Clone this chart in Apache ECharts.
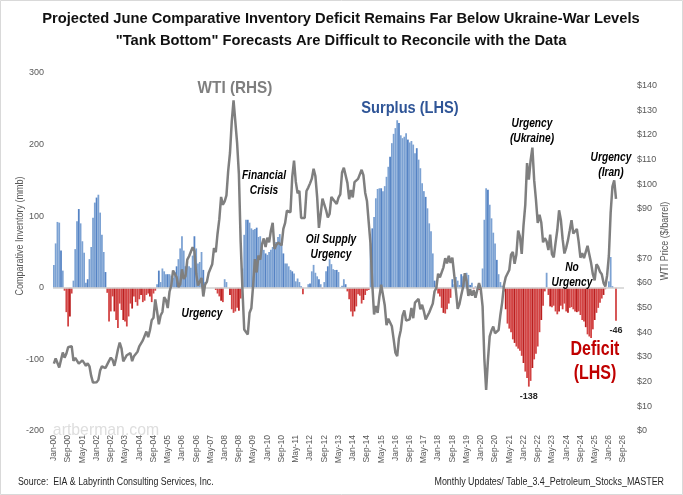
<!DOCTYPE html>
<html>
<head>
<meta charset="utf-8">
<script src="https://cdn.jsdelivr.net/npm/echarts@6/dist/echarts.min.js"></script>
<style>
  html, body { margin: 0; padding: 0; background: #fff; }
  #chart { width: 683px; height: 495px; }
</style>
</head>
<body>
<div id="chart"></div>
<script>
// month labels Jan-00 .. Sep-26
var monthNames = ['Jan','Feb','Mar','Apr','May','Jun','Jul','Aug','Sep','Oct','Nov','Dec'];
var firstYear = 2000, lastYear = 2026, lastMonth = 9;
var categories = [];
for (var y = firstYear; y <= lastYear; y++) {
  for (var m = 0; m < 12; m++) {
    if (y == lastYear && m >= lastMonth) break;
    categories.push(monthNames[m] + '-' + String(y).slice(2));
  }
}

// comparative inventory (mmb), one row per year
var inventory = [
  32, 62, 92, 91, 52, 24, -4, -34, -54, -40, -8, 10,
  54, 93, 110, 90, 65, 49, 7, 12, 40, 57, 98, 119,
  126, 130, 105, 74, 50, 22, -7, -47, -33, -12, -33, -45,
  -56, -22, -31, -45, -47, -54, -40, -22, -29, -12, -20, -25,
  -16, -10, -20, -18, -10, -8, -12, -20, -8, -4, 5, 24,
  8, 27, 23, 19, 19, 19, 17, 14, 22, 30, 40, 55,
  72, 52, 30, 37, 30, 28, 45, 72, 55, 34, 36, 50,
  25, 8, 0, 0, 0, 0, 0, -3, -8, -12, -18, -20,
  12, 8, 0, -10, -30, -35, -33, -28, -32, -15, 27, 74,
  95, 95, 91, 83, 81, 82, 84, 71, 72, 57, 53, 48,
  46, 50, 53, 57, 64, 64, 71, 75, 62, 48, 34, 34,
  30, 25, 23, 20, 9, 13, 8, 2, -9, 0, 0, 5,
  6, 23, 32, 21, 16, 12, 5, -1, 8, 23, 30, 40,
  33, 26, 25, 25, 22, 1, 3, 12, 5, -5, -16, -33,
  -40, -33, -26, -9, -11, -22, -17, -10, -4, -3, 62, 83,
  99, 125, 138, 139, 139, 135, 142, 155, 169, 183, 202, 215,
  223, 234, 230, 213, 209, 211, 216, 207, 203, 205, 200, 188,
  195, 179, 167, 146, 135, 127, 111, 90, 79, 48, 10, 2,
  -8, -12, -28, -35, -36, -30, -22, -14, 12, 5, 15, 10,
  4, 19, 16, 13, 21, 18, 4, 7, -2, 2, 0, -3,
  -9, 27, 95, 139, 137, 116, 97, 77, 62, 39, 19, 8,
  3, -5, -30, -50, -57, -62, -72, -77, -82, -85, -88, -95,
  -105, -117, -126, -138, -130, -112, -100, -92, -82, -62, -45, -25,
  -5, 21, -10, -26, -27, -25, -33, -37, -33, -25, -30, -22,
  -33, -35, -28, -27, -30, -33, -34, -33, -38, -45, -47, -55,
  -65, -68, -70, -58, -45, -35, -28, -21, -15, -10, -2, 0,
  9, 43, 2, 0, -46
];

// WTI price ($/barrel), monthly
var wti = [
  27.3, 29.4, 29.8, 25.7, 28.8, 31.8, 29.7, 31.3, 33.9, 33.1, 34.4, 28.4,
  29.6, 29.6, 27.3, 27.5, 28.6, 27.6, 26.4, 27.4, 26.2, 22.2, 19.6, 19.4,
  19.7, 20.7, 24.5, 26.2, 27.0, 25.5, 27.0, 28.4, 29.7, 28.8, 26.4, 29.5,
  33.0, 35.8, 33.5, 28.2, 28.1, 30.7, 30.8, 31.6, 28.3, 30.3, 31.1, 32.1,
  34.3, 34.7, 36.7, 36.8, 40.3, 38.0, 40.8, 44.9, 45.9, 53.3, 48.5, 43.2,
  46.8, 48.2, 54.2, 53.0, 49.8, 56.4, 59.0, 65.0, 65.6, 62.3, 58.3, 59.4,
  65.5, 61.6, 62.7, 69.4, 70.8, 71.0, 74.4, 73.0, 63.8, 58.9, 59.1, 62.0,
  54.5, 59.3, 60.4, 64.0, 63.5, 67.5, 74.1, 72.4, 79.9, 85.8, 94.8, 91.7,
  93.0, 95.4, 105.5, 112.6, 125.4, 133.9, 133.4, 116.7, 104.1, 76.6, 57.3, 41.1,
  41.7, 39.1, 47.9, 49.7, 59.0, 69.6, 64.2, 71.1, 69.4, 75.7, 78.0, 74.5,
  78.3, 76.4, 81.2, 84.3, 73.7, 75.3, 76.3, 76.6, 75.2, 81.9, 84.3, 89.2,
  89.2, 88.6, 102.9, 109.5, 100.9, 96.3, 97.3, 86.3, 85.5, 86.3, 97.2, 98.6,
  100.3, 102.2, 106.2, 103.3, 94.7, 82.3, 87.9, 94.1, 94.5, 89.5, 86.5, 87.9,
  94.8, 95.3, 92.9, 92.0, 94.5, 95.8, 104.7, 106.6, 106.3, 100.5, 93.9, 97.6,
  94.6, 100.8, 100.8, 102.1, 102.2, 105.8, 103.6, 96.5, 93.2, 84.4, 75.8, 59.3,
  47.2, 50.6, 47.8, 54.5, 59.3, 59.8, 50.9, 42.9, 45.5, 46.2, 42.4, 37.2,
  31.7, 30.3, 37.6, 40.8, 46.7, 48.8, 44.7, 44.7, 45.2, 49.8, 45.7, 52.0,
  52.5, 53.5, 49.3, 51.1, 48.5, 45.2, 46.6, 48.0, 49.8, 51.6, 56.6, 57.9,
  63.7, 62.2, 62.7, 66.3, 70.0, 67.9, 71.0, 68.1, 70.2, 70.8, 57.0, 49.5,
  51.4, 55.0, 58.2, 63.9, 60.8, 54.7, 57.4, 54.8, 57.0, 54.0, 57.0, 59.9,
  57.5, 50.5, 29.2, 16.6, 28.6, 38.3, 40.7, 42.3, 39.6, 39.4, 40.9, 47.0,
  52.0, 59.0, 62.3, 61.7, 65.2, 71.4, 72.5, 67.7, 71.5, 81.2, 78.7, 71.7,
  83.2, 91.6, 108.5, 101.8, 109.6, 114.8, 101.6, 93.7, 84.3, 87.6, 84.4, 76.4,
  78.1, 76.8, 73.3, 79.5, 71.6, 70.3, 76.1, 81.4, 89.4, 85.6, 77.7, 71.9,
  74.2, 77.3, 81.3, 85.4, 80.0, 79.8, 81.8, 76.7, 70.2, 72.0, 70.0, 70.1,
  75.0, 71.5, 68.0, 63.5, 61.0, 67.5, 66.5, 64.5, 63.5, 60.0, 58.5, 63.0,
  71.0, 88.5, 99.0, 101.5, 94.0
];

var leftTicks = { min: -200, max: 300, step: 100 };
var rightTicks = { min: 0, max: 145, step: 10, hidden: [80] };

var blue = '#7ca2d3', blueDark = '#5583c4';
var red = '#d24343', redDark = '#bb1f1f';

// colour bars by sign (every 5th one a shade darker, like the Excel render),
// label the low point and the last (projected) month
var lowIdx = inventory.indexOf(Math.min.apply(null, inventory));
var lastIdx = inventory.length - 1;
var barData = [];
for (var i = 0; i < inventory.length; i++) {
  var v = inventory[i];
  var dark = (i % 5 == 4);
  var c = v >= 0 ? (dark ? blueDark : blue) : (dark ? redDark : red);
  var item = { value: v, itemStyle: { color: c } };
  if (i == lowIdx || i == lastIdx) {
    item.label = {
      show: true, position: 'bottom', distance: 5,
      formatter: '{c}', fontSize: 9, fontWeight: 'bold', color: '#262626'
    };
  }
  barData.push(item);
}

var font = 'Liberation Sans, Arial, sans-serif';

// text squeezed horizontally to get closer to the narrow Calibri of the original
function note(text, x, y, size, color, opts) {
  opts = opts || {};
  return {
    type: 'text', x: x, y: y, z: 100,
    scaleX: opts.sx || 0.85,
    rotation: opts.rot || 0,
    style: {
      text: text, fill: color || '#000', align: opts.align || 'center', verticalAlign: 'middle',
      fontSize: size, fontWeight: opts.weight || 'bold', fontStyle: opts.italic ? 'italic' : 'normal',
      fontFamily: font, lineHeight: opts.lh || size + 3
    }
  };
}

var chart = echarts.init(document.getElementById('chart'));

chart.setOption({
  animation: false,
  backgroundColor: '#fff',
  grid: { left: 53, right: 59, top: 73, bottom: 64, outerBoundsMode: 'none' },
  xAxis: {
    type: 'category',
    data: categories,
    axisLine: { show: false },
    axisTick: { show: false },
    axisLabel: {
      interval: 7, rotate: 90, margin: 4,
      fontSize: 8.5, color: '#595959', fontFamily: font
    }
  },
  yAxis: [
    {
      type: 'value', min: leftTicks.min, max: leftTicks.max, interval: leftTicks.step,
      splitLine: { show: false }, axisLine: { show: false }, axisTick: { show: false },
      axisLabel: { margin: 9, fontSize: 9, color: '#595959', fontFamily: font }
    },
    {
      type: 'value', min: rightTicks.min, max: rightTicks.max, interval: rightTicks.step,
      position: 'right',
      splitLine: { show: false }, axisLine: { show: false }, axisTick: { show: false },
      axisLabel: {
        margin: 13, fontSize: 9, color: '#595959', fontFamily: font,
        formatter: function (v) {
          if (v % rightTicks.step != 0 || rightTicks.hidden.indexOf(v) >= 0) return '';
          return '$' + v;
        }
      }
    }
  ],
  series: [
    {
      name: 'Comparative Inventory',
      type: 'bar',
      data: barData,
      barCategoryGap: '0%',
      yAxisIndex: 0,
      markLine: {
        silent: true, symbol: 'none', label: { show: false },
        lineStyle: { color: '#d0d0d0', width: 1.5, type: 'solid' },
        data: [{ yAxis: 0 }]
      }
    },
    {
      name: 'WTI',
      type: 'line',
      data: wti,
      yAxisIndex: 1,
      symbol: 'none',
      z: 5,
      lineStyle: { color: '#7f7f7f', width: 2.5 }
    }
  ],
  graphic: [
    { type: 'rect', shape: { x: 0.5, y: 0.5, width: 682, height: 494 },
      style: { fill: 'none', stroke: '#d9d9d9', lineWidth: 1 }, z: 0 },
    note('Projected June Comparative Inventory Deficit Remains Far Below Ukraine-War Levels', 341, 19, 15, '#111', { sx: 0.98 }),
    note('"Tank Bottom" Forecasts Are Difficult to Reconcile with the Data', 341, 41, 15, '#111', { sx: 0.98 }),
    note('artberman.com', 106, 430, 17, '#dedede', { sx: 0.93, weight: 'normal' }),
    note('Comparative Inventory (mmb)', 20, 236, 10, '#595959', { sx: 0.9, weight: 'normal', rot: Math.PI / 2 }),
    note('WTI Price ($/barrel)', 665, 241, 10, '#595959', { sx: 0.9, weight: 'normal', rot: Math.PI / 2 }),
    note('WTI (RHS)', 235, 88, 17, '#7f7f7f', { sx: 0.9 }),
    note('Surplus (LHS)', 410, 108, 17, '#2f5597', { sx: 0.86 }),
    note('Financial\nCrisis', 264, 183, 12, '#000', { italic: true }),
    note('Oil Supply\nUrgency', 331, 247, 12, '#000', { italic: true }),
    note('Urgency', 202, 314, 12, '#000', { italic: true }),
    note('Urgency\n(Ukraine)', 532, 131, 12, '#000', { italic: true }),
    note('Urgency\n(Iran)', 611, 165, 12, '#000', { italic: true }),
    note('No\nUrgency', 572, 275, 12, '#000', { italic: true }),
    note('Deficit\n(LHS)', 595, 361, 20, '#c00000', { sx: 0.8, lh: 24 }),
    note('Source:  EIA & Labyrinth Consulting Services, Inc.', 18, 482, 10, '#262626', { sx: 0.88, weight: 'normal', align: 'left' }),
    note('Monthly Updates/ Table_3.4_Petroleum_Stocks_MASTER', 664, 482, 10, '#262626', { sx: 0.89, weight: 'normal', align: 'right' })
  ]
});
</script>
</body>
</html>
